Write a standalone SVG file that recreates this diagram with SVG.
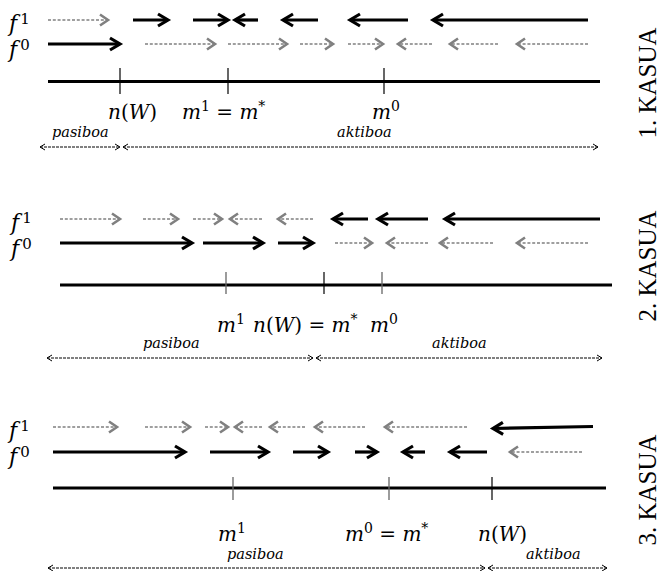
<svg xmlns="http://www.w3.org/2000/svg" width="662" height="571" viewBox="0 0 662 571">
<defs>
<style>
.blk{stroke:#000;stroke-width:3.2;fill:none;marker-end:url(#hb)}
.gry{stroke:#808080;stroke-width:1.3;stroke-dasharray:3 1.8;fill:none;marker-end:url(#hg)}
.axis{stroke:#000;stroke-width:3;fill:none}
.tick{stroke:#000;stroke-width:1.2}
.tickg{stroke:#666;stroke-width:1.3}
.span{stroke:#000;stroke-width:1;stroke-dasharray:3 1;fill:none;marker-start:url(#ht);marker-end:url(#ht)}
.math{font-family:"DejaVu Serif",serif;font-size:20px;fill:#000}
.it{font-style:italic}
.sup{font-size:14px}
.f{font-family:"DejaVu Serif",serif;font-size:22px;font-style:italic;fill:#000}
.fs{font-size:15px;font-style:normal}
.small{font-family:"DejaVu Serif",serif;font-size:14.5px;font-style:italic;fill:#000}
.kasua{font-family:"Liberation Serif",serif;font-size:25px;fill:#000;text-anchor:middle}
</style>
<marker id="hb" markerUnits="userSpaceOnUse" markerWidth="30" markerHeight="30" viewBox="-15 -15 30 30" refX="0" refY="0" orient="auto" overflow="visible"><path d="M-10,-6 L0,0 L-10,6" fill="none" stroke="#000" stroke-width="3.2" stroke-dasharray="none"/></marker>
<marker id="hg" markerUnits="userSpaceOnUse" markerWidth="30" markerHeight="30" viewBox="-15 -15 30 30" refX="0" refY="0" orient="auto" overflow="visible"><path d="M-8,-5.5 L0,0 L-8,5.5" fill="none" stroke="#808080" stroke-width="2.6" stroke-dasharray="none"/></marker>
<marker id="ht" markerUnits="userSpaceOnUse" markerWidth="20" markerHeight="20" viewBox="-10 -10 20 20" refX="0" refY="0" orient="auto-start-reverse" overflow="visible"><path d="M-5,-3 L0,0 L-5,3" fill="none" stroke="#000" stroke-width="1" stroke-dasharray="none"/></marker>
</defs>
<rect width="662" height="571" fill="#fff"/>

<g id="connectors">
<!-- Case 1 -->
<line class="gry" x1="48" y1="20" x2="108" y2="20"/>
<line class="blk" x1="133" y1="20" x2="168" y2="20"/>
<line class="blk" x1="193" y1="20" x2="228" y2="20"/>
<line class="blk" x1="258" y1="20" x2="235" y2="20"/>
<line class="blk" x1="318" y1="20" x2="283" y2="20"/>
<line class="blk" x1="408" y1="20" x2="350" y2="20"/>
<line class="blk" x1="588" y1="20" x2="433" y2="20"/>
<line class="blk" x1="48" y1="44" x2="120" y2="44"/>
<line class="gry" x1="145" y1="44" x2="215" y2="44"/>
<line class="gry" x1="228" y1="44" x2="287" y2="44"/>
<line class="gry" x1="300" y1="44" x2="333" y2="44"/>
<line class="gry" x1="348" y1="44" x2="383" y2="44"/>
<line class="gry" x1="432" y1="44" x2="398" y2="44"/>
<line class="gry" x1="498" y1="44" x2="450" y2="44"/>
<line class="gry" x1="588" y1="44" x2="517" y2="44"/>
<line class="axis" x1="48" y1="81.5" x2="600" y2="81.5"/>
<line class="tick" x1="120" y1="68" x2="120" y2="94"/>
<line class="tick" x1="228" y1="68" x2="228" y2="94"/>
<line class="tick" x1="384" y1="68" x2="384" y2="94"/>
<line class="span" x1="40" y1="147" x2="120" y2="147"/>
<line class="span" x1="123" y1="147" x2="598" y2="147"/>
<!-- Case 2 -->
<line class="gry" x1="60" y1="219" x2="120" y2="219"/>
<line class="gry" x1="143" y1="219" x2="178" y2="219"/>
<line class="gry" x1="193" y1="219" x2="222" y2="219"/>
<line class="gry" x1="262" y1="219" x2="230" y2="219"/>
<line class="gry" x1="313" y1="219" x2="278" y2="219"/>
<line class="blk" x1="368" y1="219" x2="333" y2="219"/>
<line class="blk" x1="428" y1="219" x2="378" y2="219"/>
<line class="blk" x1="600" y1="219" x2="445" y2="219"/>
<line class="blk" x1="60" y1="243" x2="192" y2="243"/>
<line class="blk" x1="203" y1="243" x2="263" y2="243"/>
<line class="blk" x1="278" y1="243" x2="313" y2="243"/>
<line class="gry" x1="335" y1="243" x2="372" y2="243"/>
<line class="gry" x1="428" y1="243" x2="387" y2="243"/>
<line class="gry" x1="493" y1="243" x2="440" y2="243"/>
<line class="gry" x1="588" y1="243" x2="517" y2="243"/>
<line class="axis" x1="60" y1="285" x2="612" y2="285"/>
<line class="tickg" x1="226" y1="272" x2="226" y2="294"/>
<line class="tick" x1="324" y1="272" x2="324" y2="294"/>
<line class="tickg" x1="382" y1="272" x2="382" y2="294"/>
<line class="span" x1="47" y1="358" x2="313" y2="358"/>
<line class="span" x1="316" y1="358" x2="602" y2="358"/>
<!-- Case 3 -->
<line class="gry" x1="53" y1="427" x2="117" y2="427"/>
<line class="gry" x1="145" y1="427" x2="190" y2="427"/>
<line class="gry" x1="205" y1="427" x2="228" y2="427"/>
<line class="gry" x1="262" y1="427" x2="235" y2="427"/>
<line class="gry" x1="305" y1="427" x2="270" y2="427"/>
<line class="gry" x1="365" y1="427" x2="315" y2="427"/>
<line class="gry" x1="467" y1="427" x2="385" y2="427"/>
<line class="blk" x1="593" y1="426.5" x2="493" y2="428.5"/>
<line class="blk" x1="53" y1="452" x2="185" y2="452"/>
<line class="blk" x1="210" y1="452" x2="268" y2="452"/>
<line class="blk" x1="293" y1="452" x2="328" y2="452"/>
<line class="blk" x1="355" y1="452" x2="377" y2="452"/>
<line class="blk" x1="425" y1="452" x2="403" y2="452"/>
<line class="blk" x1="487" y1="452" x2="450" y2="452"/>
<line class="gry" x1="582" y1="452" x2="510" y2="452"/>
<line class="axis" x1="53" y1="488" x2="606" y2="488"/>
<line class="tickg" x1="233" y1="477" x2="233" y2="500"/>
<line class="tickg" x1="389" y1="477" x2="389" y2="500"/>
<line class="tick" x1="492" y1="477" x2="492" y2="500"/>
<line class="span" x1="48" y1="568" x2="485" y2="568"/>
<line class="span" x1="488" y1="568" x2="607" y2="568"/>
</g>

<g id="case1">
<g id="c1-f1"><text class="f" x="9" y="31">f<tspan class="fs" dx="3" dy="-7">1</tspan></text></g>
<g id="c1-f0"><text class="f" x="9" y="57">f<tspan class="fs" dx="3" dy="-7">0</tspan></text></g>
<g id="c1-nW"><text class="math" x="108" y="119"><tspan class="it">n</tspan>(<tspan class="it">W</tspan>)</text></g>
<g id="c1-m1"><text class="math" x="182" y="119"><tspan class="it">m</tspan><tspan class="sup" dy="-8">1</tspan><tspan dy="8"> = </tspan><tspan class="it">m</tspan><tspan class="sup" dy="-8">*</tspan></text></g>
<g id="c1-m0"><text class="math" x="372" y="119"><tspan class="it">m</tspan><tspan class="sup" dy="-8">0</tspan></text></g>
<g id="c1-pas"><text class="small" x="52" y="137">pasiboa</text></g>
<g id="c1-akt"><text class="small" x="337" y="137">aktiboa</text></g>
<g id="c1-title"><text class="kasua" transform="translate(656,83) rotate(-90)">1. KASUA</text></g>
</g>

<g id="case2">
<g id="c2-f1"><text class="f" x="11" y="230">f<tspan class="fs" dx="3" dy="-7">1</tspan></text></g>
<g id="c2-f0"><text class="f" x="11" y="256">f<tspan class="fs" dx="3" dy="-7">0</tspan></text></g>
<g id="c2-m1"><text class="math" x="217" y="332"><tspan class="it">m</tspan><tspan class="sup" dy="-8">1</tspan></text></g>
<g id="c2-nW"><text class="math" x="253" y="332"><tspan class="it">n</tspan>(<tspan class="it">W</tspan>) = <tspan class="it">m</tspan><tspan class="sup" dy="-8">*</tspan></text></g>
<g id="c2-m0"><text class="math" x="370" y="332"><tspan class="it">m</tspan><tspan class="sup" dy="-8">0</tspan></text></g>
<g id="c2-pas"><text class="small" x="143" y="348">pasiboa</text></g>
<g id="c2-akt"><text class="small" x="432" y="348">aktiboa</text></g>
<g id="c2-title"><text class="kasua" transform="translate(656,266) rotate(-90)">2. KASUA</text></g>
</g>

<g id="case3">
<g id="c3-f1"><text class="f" x="9" y="438">f<tspan class="fs" dx="3" dy="-7">1</tspan></text></g>
<g id="c3-f0"><text class="f" x="9" y="464">f<tspan class="fs" dx="3" dy="-7">0</tspan></text></g>
<g id="c3-m1"><text class="math" x="218" y="541"><tspan class="it">m</tspan><tspan class="sup" dy="-8">1</tspan></text></g>
<g id="c3-m0"><text class="math" x="345" y="541"><tspan class="it">m</tspan><tspan class="sup" dy="-8">0</tspan><tspan dy="8"> = </tspan><tspan class="it">m</tspan><tspan class="sup" dy="-8">*</tspan></text></g>
<g id="c3-nW"><text class="math" x="478" y="541"><tspan class="it">n</tspan>(<tspan class="it">W</tspan>)</text></g>
<g id="c3-pas"><text class="small" x="227" y="559">pasiboa</text></g>
<g id="c3-akt"><text class="small" x="526" y="559">aktiboa</text></g>
<g id="c3-title"><text class="kasua" transform="translate(656,490) rotate(-90)">3. KASUA</text></g>
</g>
</svg>
